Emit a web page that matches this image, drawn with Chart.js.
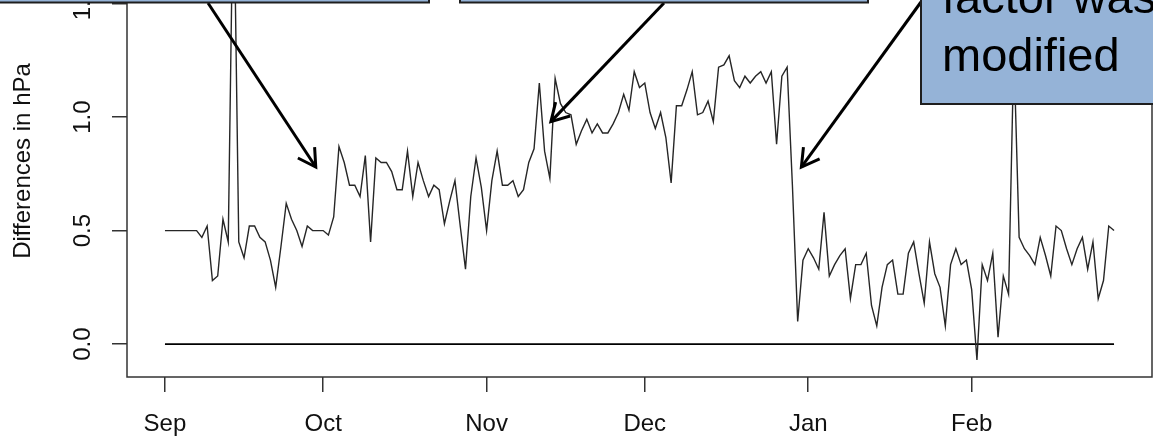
<!DOCTYPE html>
<html>
<head>
<meta charset="utf-8">
<script src="https://cdn.jsdelivr.net/npm/chart.js@4.4.1/dist/chart.umd.min.js"></script>
<style>
  html, body { margin: 0; padding: 0; background: #fff; }
  #wrap { position: relative; width: 1153px; height: 438px; overflow: hidden; background: #fff; }
  /* the plot frame continues above the visible strip */
  #c { position: absolute; left: 0; top: -55px; }
</style>
</head>
<body>
<div id="wrap"><canvas id="c" width="1153" height="493"></canvas></div>
<script>
// Month ticks (day offset from 1 Sep) and their labels
const monthLabels = ['Sep', 'Oct', 'Nov', 'Dec', 'Jan', 'Feb'];
const monthStartDay = [0, 30, 61, 91, 122, 153];

// Y axis ticks
const yTickValues = [0, 0.5, 1.0, 1.5];
const yTickLabels = ['0.0', '0.5', '1.0', '1.5'];

// Daily pressure differences (hPa), 1 Sep .. 28 Feb
const diffValues = [
  0.50, 0.50, 0.50, 0.50, 0.50, 0.50, 0.50, 0.47, 0.52, 0.28,
  0.30, 0.55, 0.45, 2.10, 0.45, 0.38, 0.52, 0.52, 0.47, 0.45,
  0.37, 0.25, 0.43, 0.62, 0.55, 0.50, 0.43, 0.52, 0.50, 0.50,
  0.50, 0.48, 0.56, 0.87, 0.80, 0.70, 0.70, 0.65, 0.83, 0.45,
  0.82, 0.80, 0.80, 0.76, 0.68, 0.68, 0.85, 0.65, 0.80, 0.72,
  0.65, 0.70, 0.68, 0.53, 0.63, 0.72, 0.52, 0.33, 0.65, 0.82,
  0.69, 0.50, 0.72, 0.85, 0.70, 0.70, 0.72, 0.65, 0.68, 0.80,
  0.86, 1.15, 0.85, 0.73, 1.17, 1.06, 1.02, 1.01, 0.88, 0.94,
  0.99, 0.93, 0.97, 0.93, 0.93, 0.97, 1.02, 1.10, 1.03, 1.20,
  1.13, 1.15, 1.02, 0.95, 1.02, 0.91, 0.71, 1.05, 1.05, 1.12,
  1.20, 1.01, 1.02, 1.07, 0.98, 1.22, 1.23, 1.27, 1.16, 1.13,
  1.18, 1.15, 1.18, 1.20, 1.15, 1.20, 0.88, 1.18, 1.22, 0.70,
  0.10, 0.37, 0.42, 0.38, 0.33, 0.58, 0.30, 0.35, 0.39, 0.42,
  0.20, 0.35, 0.35, 0.40, 0.17, 0.08, 0.25, 0.35, 0.37, 0.22,
  0.22, 0.40, 0.45, 0.31, 0.18, 0.45, 0.31, 0.25, 0.08, 0.35,
  0.42, 0.35, 0.37, 0.24, -0.07, 0.35, 0.28, 0.40, 0.03, 0.30,
  0.22, 1.30, 0.47, 0.42, 0.39, 0.35, 0.47, 0.39, 0.30, 0.52,
  0.50, 0.42, 0.35, 0.42, 0.47, 0.33, 0.45, 0.20, 0.28, 0.52,
  0.50
];

// Reference level
const baselineValue = 0;

// Callout arrows: tip given in data units (day, hPa)
const arrowTipDay = [28.6, 73.2, 120.7];
const arrowTipValue = [0.78, 0.98, 0.78];

// Callout text of the right-hand box
const calloutLines = ['factor was', 'modified'];

const FONT = "'Liberation Sans', Arial, Helvetica, sans-serif";
const INK = '#111';
const AXIS = '#333';

const lastDay = diffValues.length - 1;

// R-style box around the plot region
const framePlugin = {
  id: 'frame',
  beforeDatasetsDraw(chart) {
    const { ctx, chartArea: a } = chart;
    ctx.save();
    ctx.strokeStyle = AXIS;
    ctx.lineWidth = 1.5;
    ctx.strokeRect(a.left, a.top, a.right - a.left, a.bottom - a.top);
    ctx.restore();
  }
};

// Callout boxes and arrows
const calloutPlugin = {
  id: 'callouts',
  afterDraw(chart) {
    const { ctx, scales } = chart;
    const fill = '#95b3d7';
    const edge = '#1e1e1e';
    const boxes = [
      { x: -3, y: -30, w: 432, h: 87.5 },
      { x: 460, y: -30, w: 408, h: 87.5 },
      { x: 921, y: -30, w: 260, h: 189 }
    ];
    const tails = [[208, 58], [664, 58], [921, 57]];

    ctx.save();
    // arrows
    ctx.strokeStyle = '#000';
    ctx.lineWidth = 3;
    ctx.lineJoin = 'miter';
    ctx.lineCap = 'butt';
    for (let i = 0; i < tails.length; i++) {
      const tx = scales.x.getPixelForValue(arrowTipDay[i]);
      const ty = scales.y.getPixelForValue(arrowTipValue[i]);
      const [sx, sy] = tails[i];
      ctx.beginPath();
      ctx.moveTo(sx, sy);
      ctx.lineTo(tx, ty);
      ctx.stroke();
      const ang = Math.atan2(ty - sy, tx - sx);
      const len = 20, spread = Math.PI / 6;
      ctx.beginPath();
      ctx.moveTo(tx - len * Math.cos(ang - spread), ty - len * Math.sin(ang - spread));
      ctx.lineTo(tx, ty);
      ctx.lineTo(tx - len * Math.cos(ang + spread), ty - len * Math.sin(ang + spread));
      ctx.stroke();
    }
    // boxes
    ctx.lineWidth = 2;
    for (const b of boxes) {
      ctx.fillStyle = fill;
      ctx.fillRect(b.x, b.y, b.w, b.h);
      ctx.strokeStyle = edge;
      ctx.strokeRect(b.x, b.y, b.w, b.h);
    }
    // text of the right box
    ctx.fillStyle = '#000';
    ctx.font = '47px ' + FONT;
    ctx.textBaseline = 'alphabetic';
    ctx.textAlign = 'left';
    ctx.fillText(calloutLines[0], 942, 68);
    ctx.fillText(calloutLines[1], 942, 126);
    ctx.restore();
  }
};

new Chart(document.getElementById('c'), {
  type: 'line',
  data: {
    datasets: [
      {
        data: diffValues.map((v, i) => ({ x: i, y: v })),
        borderColor: '#262626',
        borderWidth: 1.4,
        pointRadius: 0,
        tension: 0,
        fill: false
      },
      {
        data: [{ x: 0, y: baselineValue }, { x: lastDay, y: baselineValue }],
        borderColor: '#000',
        borderWidth: 1.8,
        pointRadius: 0,
        fill: false
      }
    ]
  },
  options: {
    responsive: false,
    animation: false,
    devicePixelRatio: 1,
    layout: { padding: { left: 0, right: 1, top: 0, bottom: 0 } },
    plugins: { legend: { display: false }, tooltip: { enabled: false }, title: { display: false } },
    scales: {
      x: {
        type: 'linear',
        min: -7.2,
        max: 187.2,
        border: { display: false },
        grid: { drawOnChartArea: false, drawTicks: true, tickLength: 15, color: AXIS, lineWidth: 1.5 },
        afterBuildTicks(scale) { scale.ticks = monthStartDay.map(v => ({ value: v })); },
        afterFit(scale) {
          scale.height = 61;
          scale.paddingLeft = 0; scale.paddingRight = 0;
        },
        ticks: {
          autoSkip: false,
          maxRotation: 0,
          minRotation: 0,
          padding: 17.5,
          color: INK,
          font: { family: FONT, size: 24 },
          callback: (value, index) => monthLabels[index]
        }
      },
      y: {
        type: 'linear',
        min: -0.145,
        max: 1.758,
        border: { display: false },
        grid: { drawOnChartArea: false, drawTicks: true, tickLength: 15, color: AXIS, lineWidth: 1.5 },
        afterBuildTicks(scale) { scale.ticks = yTickValues.map(v => ({ value: v })); },
        afterFit(scale) {
          scale.width = 127;
          scale.paddingTop = 0; scale.paddingBottom = 0;
        },
        title: {
          display: true,
          text: 'Differences in hPa',
          color: INK,
          font: { family: FONT, size: 24, lineHeight: 1.2 },
          padding: { top: 8.5, bottom: 0 }
        },
        ticks: {
          autoSkip: false,
          minRotation: 90,
          maxRotation: 90,
          crossAlign: 'center',
          padding: 12,
          color: INK,
          font: { family: FONT, size: 24 },
          callback: (value, index) => yTickLabels[index]
        }
      }
    }
  },
  plugins: [framePlugin, calloutPlugin]
});
</script>
</body>
</html>
